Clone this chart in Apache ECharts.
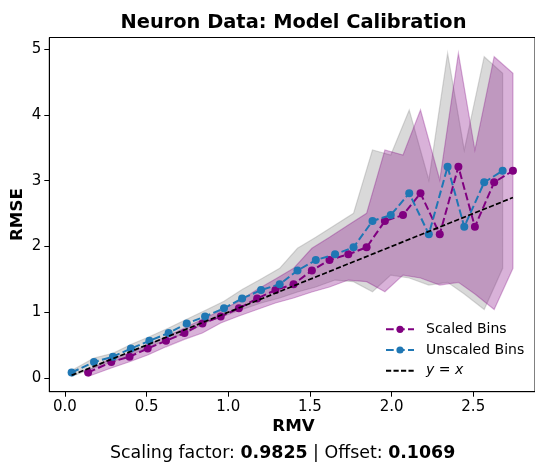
<!DOCTYPE html>
<html>
<head>
<meta charset="utf-8">
<script src="https://cdn.jsdelivr.net/npm/echarts@6/dist/echarts.min.js"></script>
<style>
html,body{margin:0;padding:0;background:#fff;}
#chart{width:535px;height:462px;}
</style>
</head>
<body>
<div id="chart"></div>
<script>
// ---- data ----
const rmvUnscaled = [0.041, 0.178, 0.294, 0.404, 0.517, 0.635, 0.746, 0.858, 0.974, 1.085, 1.201, 1.315, 1.424, 1.536, 1.654, 1.767, 1.883, 1.995, 2.108, 2.228, 2.343, 2.445, 2.567, 2.680];
const rmvScaled = [0.142, 0.284, 0.396, 0.507, 0.619, 0.732, 0.842, 0.954, 1.065, 1.177, 1.289, 1.400, 1.512, 1.620, 1.735, 1.847, 1.959, 2.070, 2.177, 2.295, 2.409, 2.510, 2.628, 2.743];
const rmseBins = [0.084, 0.243, 0.324, 0.448, 0.565, 0.684, 0.828, 0.935, 1.059, 1.208, 1.337, 1.426, 1.634, 1.793, 1.880, 1.986, 2.386, 2.477, 2.807, 2.185, 3.211, 2.299, 2.974, 3.150];
const rmseUpper = [0.114, 0.304, 0.375, 0.509, 0.626, 0.760, 0.892, 1.026, 1.166, 1.345, 1.505, 1.667, 1.971, 2.138, 2.325, 2.503, 3.465, 3.389, 4.073, 3.009, 4.935, 3.465, 4.883, 4.631];
const rmseLower = [0.023, 0.152, 0.248, 0.350, 0.474, 0.588, 0.684, 0.836, 0.942, 1.041, 1.140, 1.216, 1.307, 1.383, 1.489, 1.464, 1.312, 1.565, 1.520, 1.413, 1.454, 1.277, 1.041, 1.667];
const identityRange = [0.041, 2.743];
const xTicks = [0, 0.5, 1.0, 1.5, 2.0, 2.5];
const xTickLabels = ['0.0', '0.5', '1.0', '1.5', '2.0', '2.5'];
const yTicks = [0, 1, 2, 3, 4, 5];
const yTickLabels = ['0', '1', '2', '3', '4', '5'];
const seriesNames = ['Scaled Bins', 'Unscaled Bins', 'y = x'];
const titleText = 'Neuron Data: Model Calibration';
const scalingFactor = '0.9825';
const offsetValue = '0.1069';

// ---- build ----
const FONT = 'DejaVu Sans';
const zip = (xs, ys) => xs.map((x, i) => [x, ys[i]]);
const PURPLE = '#800080', BLUE = '#1f77b4';
const GRAYF = 'rgba(128,128,128,0.3)', PURPF = 'rgba(128,0,128,0.3)';

function bandSeries(xs, fill) {
  return {
    type: 'custom', silent: true, z: 1,
    data: xs.map((x, i) => [x, rmseLower[i], rmseUpper[i]]),
    encode: { x: 0, y: [1, 2] },
    renderItem: (params, api) => {
      if (params.dataIndex !== 0) return null;
      const pts = [];
      for (let i = 0; i < xs.length; i++) pts.push(api.coord([xs[i], rmseUpper[i]]));
      for (let i = xs.length - 1; i >= 0; i--) pts.push(api.coord([xs[i], rmseLower[i]]));
      return { type: 'polygon', shape: { points: pts },
        style: { fill: fill, stroke: fill, lineWidth: 1.2 } };
    }
  };
}

const chart = echarts.init(document.getElementById('chart'), null, { renderer: 'canvas' });
const option = {
  animation: false,
  textStyle: { fontFamily: FONT },
  grid: { left: 49.3, right: -3.2, top: 37.5, bottom: 70.3, show: true, borderColor: '#000', borderWidth: 1, containLabel: false },
  xAxis: {
    type: 'value', min: -0.0955, max: 2.878,
    splitLine: { show: false },
    axisLine: { onZero: false, lineStyle: { color: '#000', width: 1 } },
    axisTick: { customValues: xTicks, length: 5, lineStyle: { color: '#000' } },
    axisLabel: { customValues: xTicks, margin: 8, fontSize: 15, color: '#000', fontFamily: FONT,
      formatter: v => xTickLabels[xTicks.findIndex(t => Math.abs(t - v) < 1e-9)] }
  },
  yAxis: {
    type: 'value', min: -0.208, max: 5.175,
    splitLine: { show: false },
    axisLine: { show: true, onZero: false, lineStyle: { color: '#000', width: 1 } },
    axisTick: { show: true, customValues: yTicks, length: 5, lineStyle: { color: '#000' } },
    axisLabel: { customValues: yTicks, margin: 8, fontSize: 15, color: '#000', fontFamily: FONT,
      formatter: v => yTickLabels[yTicks.findIndex(t => Math.abs(t - v) < 1e-9)] }
  },
  legend: {
    data: [seriesNames[0], seriesNames[1], { name: seriesNames[2], itemStyle: { color: 'rgba(0,0,0,0)', borderWidth: 0 } }],
    orient: 'vertical', left: 385, top: 322.3, padding: 0,
    itemWidth: 28, itemHeight: 9, itemGap: 6.7,
    textStyle: { fontSize: 14, color: '#000', fontFamily: FONT, padding: [0, 0, 0, 7],
      rich: { i: { fontStyle: 'italic', fontSize: 14, fontFamily: FONT, color: '#000' } } },
    formatter: n => n === 'y = x' ? '{i|y} = {i|x}' : n
  },
  series: [
    bandSeries(rmvUnscaled, GRAYF),
    bandSeries(rmvScaled, PURPF),
    { name: seriesNames[0], type: 'line', data: zip(rmvScaled, rmseBins), symbol: 'circle', symbolSize: 8,
      itemStyle: { color: PURPLE }, lineStyle: { color: PURPLE, width: 2, type: [7.7, 3.3] }, z: 3 },
    { name: seriesNames[1], type: 'line', data: zip(rmvUnscaled, rmseBins), symbol: 'circle', symbolSize: 8,
      itemStyle: { color: BLUE }, lineStyle: { color: BLUE, width: 2, type: [7.7, 3.3] }, z: 4 },
    { name: seriesNames[2], type: 'line', data: zip(identityRange, identityRange), symbol: 'none',
      itemStyle: { color: '#000' }, lineStyle: { color: '#000', width: 1.7, type: [5.2, 2.3] }, z: 5 }
  ],
  graphic: [
    { type: 'text', x: 293.5, y: 23, style: { text: titleText, fontSize: 19.4, fontWeight: 'bold', fontFamily: FONT, fill: '#000', align: 'center', verticalAlign: 'middle' } },
    { type: 'text', x: 293.5, y: 427, style: { text: 'RMV', fontSize: 16.7, fontWeight: 'bold', fontFamily: FONT, fill: '#000', align: 'center', verticalAlign: 'middle' } },
    { type: 'text', x: 18, y: 214.6, rotation: Math.PI / 2, style: { text: 'RMSE', fontSize: 16.7, fontWeight: 'bold', fontFamily: FONT, fill: '#000', align: 'center', verticalAlign: 'middle' } },
    { type: 'text', x: 282.6, y: 453, style: {
        text: '{n|Scaling factor: }{b|' + scalingFactor + '}{n| | Offset: }{b|' + offsetValue + '}',
        align: 'center', verticalAlign: 'middle',
        rich: { n: { fontSize: 17.4, fontFamily: FONT, fill: '#000' }, b: { fontSize: 17.4, fontFamily: FONT, fontWeight: 'bold', fill: '#000' } } } }
  ]
};
chart.setOption(option);
</script>
</body>
</html>
